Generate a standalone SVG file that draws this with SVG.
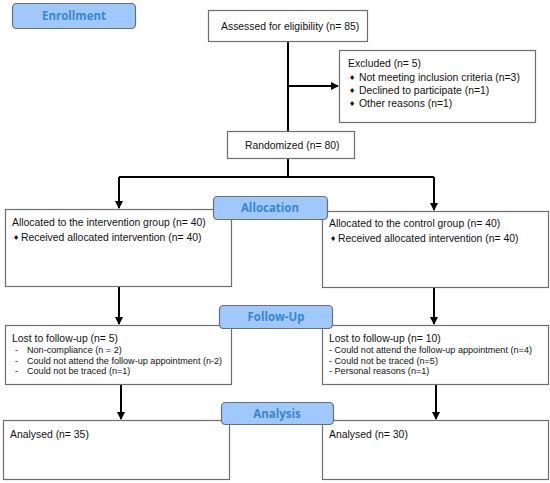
<svg xmlns="http://www.w3.org/2000/svg" width="550" height="483" viewBox="0 0 550 483">
<style>
.box{fill:#fff;stroke:#6e6e6e;stroke-width:1.2}
.lab{fill:#9fc9fd;stroke:#6e6e6e;stroke-width:1.2}
.lt{font-family:"Open Sans","DejaVu Sans",sans-serif;font-weight:bold;font-size:11.5px;fill:#3a86cc;text-anchor:middle}
.t{font-family:"Liberation Sans",Arial,sans-serif;font-size:10.4px;fill:#111}
.s{font-family:"Liberation Sans",Arial,sans-serif;font-size:9.1px;fill:#111}
.b{font-family:"DejaVu Sans",sans-serif;font-size:7px;fill:#111}
.c{stroke:#000;stroke-width:2;fill:none}
</style>
<defs>
<marker id="ah" markerWidth="8" markerHeight="8" refX="7" refY="4" orient="auto" markerUnits="userSpaceOnUse">
<path d="M0,0 L8,4 L0,8 Z" fill="#000"/>
</marker>
</defs>
<g id="connectors">
<path class="c" d="M288,41 V131"/>
<path class="c" d="M288,86 H338" marker-end="url(#ah)"/>
<path class="c" d="M288,158 V177"/>
<path class="c" d="M119,177 H434"/>
<path class="c" d="M119,177 V208" marker-end="url(#ah)"/>
<path class="c" d="M434,177 V210" marker-end="url(#ah)"/>
<path class="c" d="M119,286 V324" marker-end="url(#ah)"/>
<path class="c" d="M434,287 V324" marker-end="url(#ah)"/>
<path class="c" d="M121,384 V419" marker-end="url(#ah)"/>
<path class="c" d="M436,384 V419" marker-end="url(#ah)"/>
</g>
<g id="enrollment">
<rect class="lab" x="12.5" y="3.5" width="123" height="25" rx="4"/>
<text class="lt" x="74" y="20">Enrollment</text>
</g>
<g id="assessed">
<rect class="box" x="208.5" y="10.5" width="159" height="31"/>
<text class="t" x="221" y="30">Assessed for eligibility (n= 85)</text>
</g>
<g id="excluded">
<rect class="box" x="339.5" y="50.5" width="196" height="72"/>
<text class="t" x="348" y="67">Excluded (n= 5)</text>
<text class="b" x="349" y="80">♦</text>
<text class="t" x="359" y="81">Not meeting inclusion criteria (n=3)</text>
<text class="b" x="349" y="93">♦</text>
<text class="t" x="359" y="94">Declined to participate (n=1)</text>
<text class="b" x="349" y="106">♦</text>
<text class="t" x="359" y="107">Other reasons (n=1)</text>
</g>
<g id="randomized">
<rect class="box" x="227.5" y="131.5" width="127" height="27"/>
<text class="t" x="245" y="149">Randomized (n= 80)</text>
</g>
<g id="alloc-left">
<rect class="box" x="5.5" y="209.5" width="226" height="77"/>
<text class="t" x="12" y="226">Allocated to the intervention group (n= 40)</text>
<text class="b" x="13" y="240">♦</text>
<text class="t" x="21" y="241">Received allocated intervention (n= 40)</text>
</g>
<g id="alloc-right">
<rect class="box" x="322.5" y="211.5" width="226" height="76"/>
<text class="t" x="329" y="227">Allocated to the control group (n= 40)</text>
<text class="b" x="330" y="241">♦</text>
<text class="t" x="338" y="242">Received allocated intervention (n= 40)</text>
</g>
<g id="allocation">
<rect class="lab" x="213.5" y="196.5" width="114" height="23" rx="4"/>
<text class="lt" x="270" y="212">Allocation</text>
</g>
<g id="lost-left">
<rect class="box" x="5.5" y="325.5" width="226" height="59"/>
<text class="t" x="12" y="342">Lost to follow-up (n= 5)</text>
<text class="s" x="15" y="353">-</text>
<text class="s" x="27" y="353">Non-compliance (n = 2)</text>
<text class="s" x="15" y="363.5">-</text>
<text class="s" x="27" y="363.5">Could not attend the follow-up appointment (n-2)</text>
<text class="s" x="15" y="374">-</text>
<text class="s" x="27" y="374">Could not be traced (n=1)</text>
</g>
<g id="lost-right">
<rect class="box" x="322.5" y="325.5" width="226" height="59"/>
<text class="t" x="329" y="342">Lost to follow-up (n= 10)</text>
<text class="s" x="329" y="353">- Could not attend the follow-up appointment (n=4)</text>
<text class="s" x="329" y="363.5">- Could not be traced (n=5)</text>
<text class="s" x="329" y="374">- Personal reasons (n=1)</text>
</g>
<g id="followup">
<rect class="lab" x="219.5" y="305.5" width="113" height="23" rx="4"/>
<text class="lt" x="276" y="321">Follow-Up</text>
</g>
<g id="analysed-left">
<rect class="box" x="3.5" y="420.5" width="226" height="59"/>
<text class="t" x="10" y="438">Analysed (n= 35)</text>
</g>
<g id="analysed-right">
<rect class="box" x="322.5" y="420.5" width="226" height="59"/>
<text class="t" x="329" y="438">Analysed (n= 30)</text>
</g>
<g id="analysis">
<rect class="lab" x="221.5" y="402.5" width="112" height="22" rx="4"/>
<text class="lt" x="277" y="418">Analysis</text>
</g>
</svg>
